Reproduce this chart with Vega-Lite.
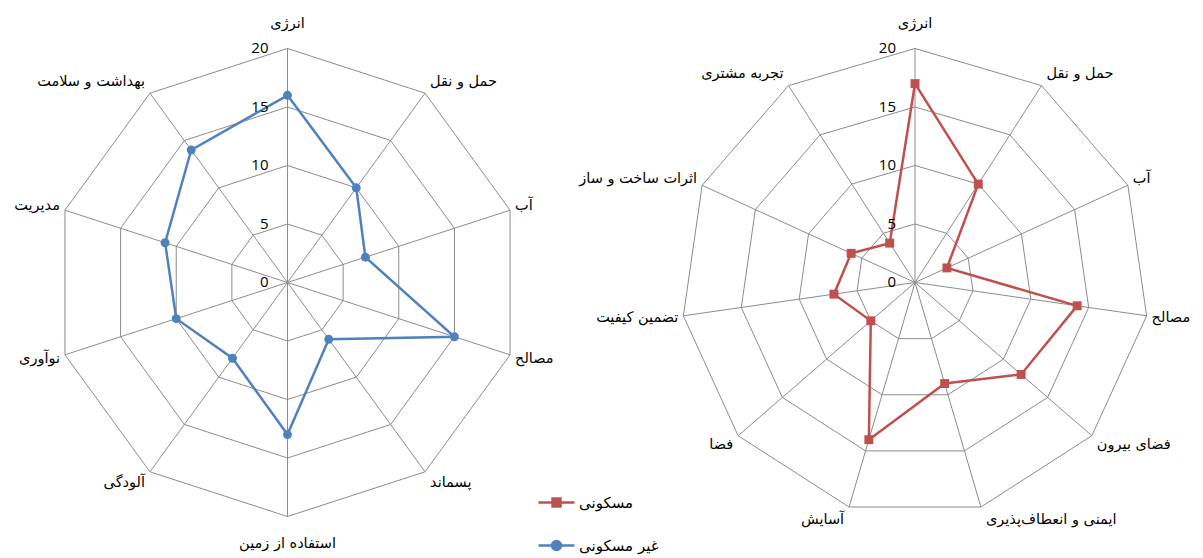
{
  "$schema": "https://vega.github.io/schema/vega-lite/v6.json",
  "padding": 0,
  "spacing": 0,
  "bounds": "flush",
  "background": "white",
  "config": {"view": {"stroke": null}, "text": {"font": "DejaVu Sans", "fontSize": 14.5, "color": "#000000"}},
  "datasets": {
    "nonres": [
      {"axis": "انرژی", "value": 16, "type": "غیر مسکونی"},
      {"axis": "حمل و نقل", "value": 10, "type": "غیر مسکونی"},
      {"axis": "آب", "value": 7, "type": "غیر مسکونی"},
      {"axis": "مصالح", "value": 15, "type": "غیر مسکونی"},
      {"axis": "پسماند", "value": 6, "type": "غیر مسکونی"},
      {"axis": "استفاده از زمین", "value": 13, "type": "غیر مسکونی"},
      {"axis": "آلودگی", "value": 8, "type": "غیر مسکونی"},
      {"axis": "نوآوری", "value": 10, "type": "غیر مسکونی"},
      {"axis": "مدیریت", "value": 11, "type": "غیر مسکونی"},
      {"axis": "بهداشت و سلامت", "value": 14, "type": "غیر مسکونی"}
    ],
    "res": [
      {"axis": "انرژی", "value": 17, "type": "مسکونی"},
      {"axis": "حمل و نقل", "value": 10, "type": "مسکونی"},
      {"axis": "آب", "value": 3, "type": "مسکونی"},
      {"axis": "مصالح", "value": 14, "type": "مسکونی"},
      {"axis": "فضای بیرون", "value": 12, "type": "مسکونی"},
      {"axis": "ایمنی و انعطاف‌پذیری", "value": 9, "type": "مسکونی"},
      {"axis": "آسایش", "value": 14, "type": "مسکونی"},
      {"axis": "فضا", "value": 5, "type": "مسکونی"},
      {"axis": "تضمین کیفیت", "value": 7, "type": "مسکونی"},
      {"axis": "اثرات ساخت و ساز", "value": 6, "type": "مسکونی"},
      {"axis": "تجربه مشتری", "value": 4, "type": "مسکونی"}
    ]
  },
  "hconcat": [
    {
      "width": 600,
      "height": 558,
      "data": {"name": "nonres"},
      "transform": [
        {"window": [{"op": "row_number", "as": "k"}]},
        {"joinaggregate": [{"op": "count", "as": "n"}]},
        {"calculate": "2*PI*(datum.k-1)/datum.n", "as": "a"},
        {"calculate": "sin(datum.a)", "as": "s"},
        {"calculate": "cos(datum.a)", "as": "c"},
        {"calculate": "datum.value*datum.s", "as": "px"},
        {"calculate": "datum.value*datum.c", "as": "py"},
        {"calculate": "20*datum.s", "as": "vx"},
        {"calculate": "20*datum.c", "as": "vy"},
        {"calculate": "21.2*datum.c", "as": "ly"},
        {"calculate": "0", "as": "z"}
      ],
      "layer": [
        {
          "transform": [
            {"calculate": "[5,10,15,20]", "as": "lv"},
            {"flatten": ["lv"]},
            {"calculate": "datum.lv*datum.s", "as": "gx"},
            {"calculate": "datum.lv*datum.c", "as": "gy"}
          ],
          "mark": {"type": "line", "interpolate": "linear-closed", "color": "#8c8c8c", "strokeWidth": 1},
          "encoding": {
            "x": {"field": "gx", "type": "quantitative", "scale": {"domain": [-24.573, 26.709], "nice": false, "zero": false}, "axis": null},
            "y": {"field": "gy", "type": "quantitative", "scale": {"domain": [-23.547, 24.145], "nice": false, "zero": false}, "axis": null},
            "detail": {"field": "lv", "type": "nominal"},
            "order": {"field": "k", "type": "quantitative"}
          }
        },
        {
          "mark": {"type": "rule", "color": "#8c8c8c", "strokeWidth": 1},
          "encoding": {
            "x": {"field": "z", "type": "quantitative"},
            "y": {"field": "z", "type": "quantitative"},
            "x2": {"field": "vx"},
            "y2": {"field": "vy"}
          }
        },
        {
          "mark": {"type": "line", "interpolate": "linear-closed", "strokeWidth": 2.5},
          "encoding": {
            "x": {"field": "px", "type": "quantitative"},
            "y": {"field": "py", "type": "quantitative"},
            "order": {"field": "k", "type": "quantitative"},
            "color": {
              "field": "type", "type": "nominal",
              "scale": {"domain": ["مسکونی", "غیر مسکونی"], "range": ["#C0504D", "#4F81BD"]},
              "legend": {
                "title": null,
                "orient": "none",
                "legendX": 537,
                "legendY": 483,
                "direction": "vertical",
                "symbolSize": 1296,
                "symbolStrokeWidth": 2.5,
                "rowPadding": 14,
                "labelOffset": 3,
                "labelFont": "DejaVu Sans",
                "labelFontSize": 15,
                "labelColor": "#000000",
                "labelLimit": 200,
                "encode": {
                  "symbols": {
                    "update": {
                      "shape": {"signal": "datum.value === 'مسکونی' ? 'M-1,0H1M-0.22,-0.22H0.22V0.22H-0.22Z' : 'M-1,0H1M0.25,0A0.25,0.25,0,1,1,-0.25,0A0.25,0.25,0,1,1,0.25,0'"},
                      "fill": {"signal": "datum.value === 'مسکونی' ? '#C0504D' : '#4F81BD'"},
                      "stroke": {"signal": "datum.value === 'مسکونی' ? '#C0504D' : '#4F81BD'"},
                      "strokeWidth": {"value": 2.5},
                      "opacity": {"value": 1}
                    }
                  }
                }
              }
            }
          }
        },
        {
          "mark": {"type": "point", "shape": "circle", "filled": true, "opacity": 1, "size": 80},
          "encoding": {
            "x": {"field": "px", "type": "quantitative"},
            "y": {"field": "py", "type": "quantitative"},
            "color": {"field": "type", "type": "nominal"}
          }
        },
        {
          "transform": [{"filter": "datum.s > 0.01"}],
          "mark": {"type": "text", "align": "left", "baseline": "middle", "dx": 5},
          "encoding": {"x": {"field": "vx", "type": "quantitative"}, "y": {"field": "ly", "type": "quantitative"}, "text": {"field": "axis", "type": "nominal"}}
        },
        {
          "transform": [{"filter": "datum.s < -0.01"}],
          "mark": {"type": "text", "align": "right", "baseline": "middle", "dx": -5},
          "encoding": {"x": {"field": "vx", "type": "quantitative"}, "y": {"field": "ly", "type": "quantitative"}, "text": {"field": "axis", "type": "nominal"}}
        },
        {
          "transform": [{"filter": "abs(datum.s) <= 0.01 && datum.c > 0"}],
          "mark": {"type": "text", "align": "center", "baseline": "bottom", "dy": -17},
          "encoding": {"x": {"field": "vx", "type": "quantitative"}, "y": {"field": "vy", "type": "quantitative"}, "text": {"field": "axis", "type": "nominal"}}
        },
        {
          "transform": [{"filter": "abs(datum.s) <= 0.01 && datum.c < 0"}],
          "mark": {"type": "text", "align": "center", "baseline": "top", "dy": 21},
          "encoding": {"x": {"field": "vx", "type": "quantitative"}, "y": {"field": "vy", "type": "quantitative"}, "text": {"field": "axis", "type": "nominal"}}
        },
        {
          "transform": [
            {"filter": "datum.k == 1"},
            {"calculate": "[0,5,10,15,20]", "as": "tv"},
            {"flatten": ["tv"]}
          ],
          "mark": {"type": "text", "align": "right", "baseline": "middle", "dx": -19, "dy": 0, "font": "Open Sans", "fontSize": 15},
          "encoding": {"x": {"field": "z", "type": "quantitative"}, "y": {"field": "tv", "type": "quantitative"}, "text": {"field": "tv", "type": "quantitative"}}
        }
      ]
    },
    {
      "width": 603,
      "height": 558,
      "data": {"name": "res"},
      "transform": [
        {"window": [{"op": "row_number", "as": "k"}]},
        {"joinaggregate": [{"op": "count", "as": "n"}]},
        {"calculate": "2*PI*(datum.k-1)/datum.n", "as": "a"},
        {"calculate": "sin(datum.a)", "as": "s"},
        {"calculate": "cos(datum.a)", "as": "c"},
        {"calculate": "datum.value*datum.s", "as": "px"},
        {"calculate": "datum.value*datum.c", "as": "py"},
        {"calculate": "20*datum.s", "as": "vx"},
        {"calculate": "20*datum.c", "as": "vy"},
        {"calculate": "21.2*datum.c", "as": "ly"},
        {"calculate": "0", "as": "z"}
      ],
      "layer": [
        {
          "transform": [
            {"calculate": "[5,10,15,20]", "as": "lv"},
            {"flatten": ["lv"]},
            {"calculate": "datum.lv*datum.s", "as": "gx"},
            {"calculate": "datum.lv*datum.c", "as": "gy"}
          ],
          "mark": {"type": "line", "interpolate": "linear-closed", "color": "#8c8c8c", "strokeWidth": 1},
          "encoding": {
            "x": {"field": "gx", "type": "quantitative", "scale": {"domain": [-26.923, 24.615], "nice": false, "zero": false}, "axis": null},
            "y": {"field": "gy", "type": "quantitative", "scale": {"domain": [-23.547, 24.145], "nice": false, "zero": false}, "axis": null},
            "detail": {"field": "lv", "type": "nominal"},
            "order": {"field": "k", "type": "quantitative"}
          }
        },
        {
          "mark": {"type": "rule", "color": "#8c8c8c", "strokeWidth": 1},
          "encoding": {
            "x": {"field": "z", "type": "quantitative"},
            "y": {"field": "z", "type": "quantitative"},
            "x2": {"field": "vx"},
            "y2": {"field": "vy"}
          }
        },
        {
          "mark": {"type": "line", "interpolate": "linear-closed", "strokeWidth": 2.5},
          "encoding": {
            "x": {"field": "px", "type": "quantitative"},
            "y": {"field": "py", "type": "quantitative"},
            "order": {"field": "k", "type": "quantitative"},
            "color": {"field": "type", "type": "nominal"}
          }
        },
        {
          "mark": {"type": "point", "shape": "square", "filled": true, "opacity": 1, "size": 80},
          "encoding": {
            "x": {"field": "px", "type": "quantitative"},
            "y": {"field": "py", "type": "quantitative"},
            "color": {"field": "type", "type": "nominal"}
          }
        },
        {
          "transform": [{"filter": "datum.s > 0.01"}],
          "mark": {"type": "text", "align": "left", "baseline": "middle", "dx": 5},
          "encoding": {"x": {"field": "vx", "type": "quantitative"}, "y": {"field": "ly", "type": "quantitative"}, "text": {"field": "axis", "type": "nominal"}}
        },
        {
          "transform": [{"filter": "datum.s < -0.01"}],
          "mark": {"type": "text", "align": "right", "baseline": "middle", "dx": -5},
          "encoding": {"x": {"field": "vx", "type": "quantitative"}, "y": {"field": "ly", "type": "quantitative"}, "text": {"field": "axis", "type": "nominal"}}
        },
        {
          "transform": [{"filter": "abs(datum.s) <= 0.01 && datum.c > 0"}],
          "mark": {"type": "text", "align": "center", "baseline": "bottom", "dy": -17},
          "encoding": {"x": {"field": "vx", "type": "quantitative"}, "y": {"field": "vy", "type": "quantitative"}, "text": {"field": "axis", "type": "nominal"}}
        },
        {
          "transform": [
            {"filter": "datum.k == 1"},
            {"calculate": "[0,5,10,15,20]", "as": "tv"},
            {"flatten": ["tv"]}
          ],
          "mark": {"type": "text", "align": "right", "baseline": "middle", "dx": -19, "dy": 0, "font": "Open Sans", "fontSize": 15},
          "encoding": {"x": {"field": "z", "type": "quantitative"}, "y": {"field": "tv", "type": "quantitative"}, "text": {"field": "tv", "type": "quantitative"}}
        }
      ]
    }
  ],
  "resolve": {"scale": {"x": "independent", "y": "independent"}}
}
